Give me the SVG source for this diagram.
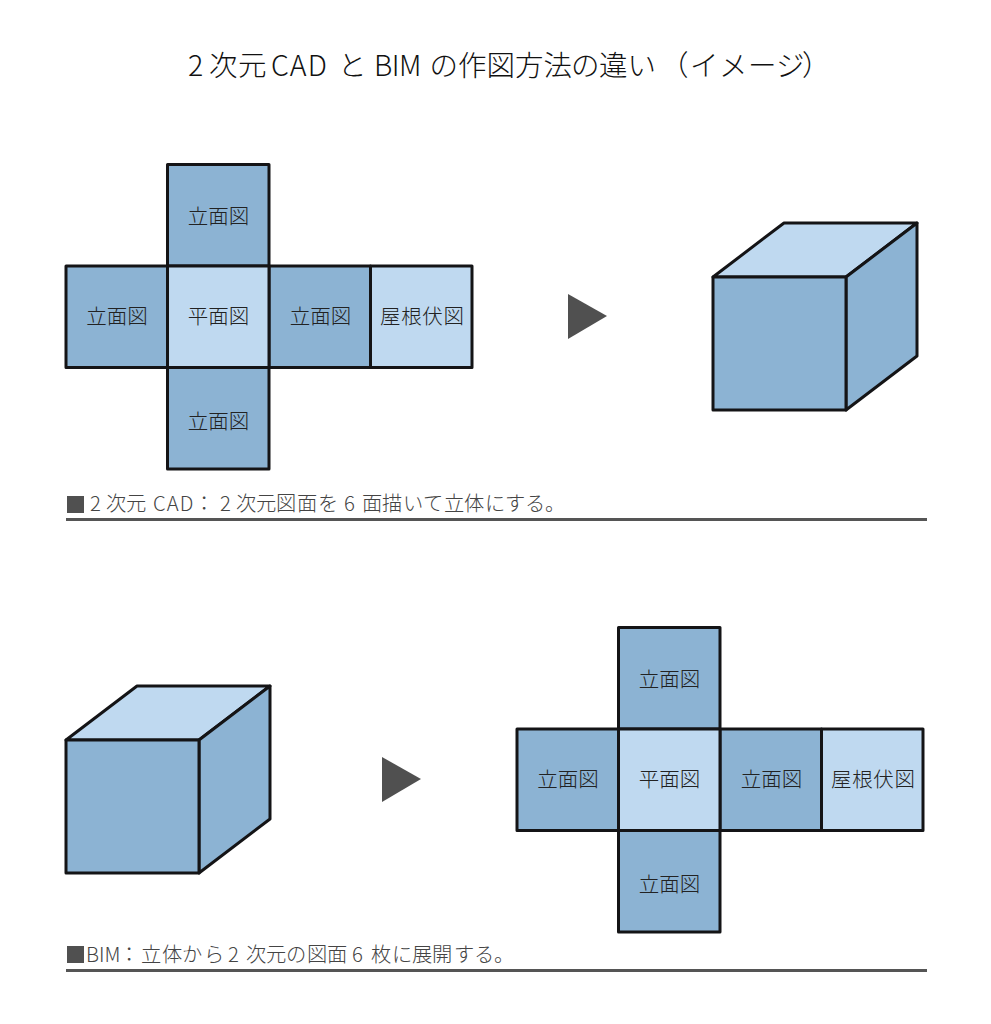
<svg xmlns="http://www.w3.org/2000/svg" width="991" height="1024" viewBox="0 0 991 1024">
<style>
text{font-family:"Noto Sans CJK JP","Noto Sans",sans-serif;font-weight:200;fill:#222}
.l{font-size:20.5px;text-anchor:middle}
.c{font-size:20.3px;fill:#444}
.t{font-size:28.5px;fill:#111}
.d{fill:#8cb3d3;stroke:#141416;stroke-width:3;stroke-linejoin:round}
.p{fill:#bfd9f0;stroke:#141416;stroke-width:3;stroke-linejoin:round}
.a{fill:#505050}
.r{stroke:#555;stroke-width:3;fill:none}
</style>
<defs>
<g id="net">
<rect class="d" x="101.500" y="-101.500" width="101.500" height="101.500"/>
<rect class="d" x="0" y="0" width="101.500" height="101.500"/>
<rect class="d" x="203" y="0" width="101.500" height="101.500"/>
<rect class="p" x="304.500" y="0" width="101.500" height="101.500"/>
<rect class="d" x="101.500" y="101.500" width="101.500" height="101.500"/>
<rect class="p" x="101.500" y="0" width="101.500" height="101.500"/>
<text class="l" x="152.500" y="-42">立面図</text>
<text class="l" x="51" y="58">立面図</text>
<text class="l" x="152.500" y="58">平面図</text>
<text class="l" x="254.500" y="58">立面図</text>
<text class="l" x="356" y="58" textLength="84" lengthAdjust="spacing">屋根伏図</text>
<text class="l" x="152.500" y="162.500">立面図</text>
</g>
<g id="cube">
<path class="p" d="M0 54L71 0H204L133 54Z"/>
<path class="d" d="M133 54L204 0V133L133 187Z"/>
<rect class="d" x="0" y="54" width="133" height="133"/>
</g>
</defs>
<text id="title" class="t" y="76"><tspan x="188">2</tspan><tspan x="209 238">次元</tspan><tspan x="271" letter-spacing="1">CAD</tspan><tspan x="338">と</tspan><tspan x="374" letter-spacing="-0.500">BIM</tspan><tspan x="429.500 458 486.500 515 543.500 571 599 627.500">の作図方法の違い</tspan><tspan x="660 690 719 748 776 802">（イメージ）</tspan></text>
<g id="net-top"><use href="#net" x="66" y="266"/></g>
<g id="arrow-top"><path class="a" d="M568 294L607 316L568 339Z"/></g>
<g id="cube-top"><use href="#cube" x="713" y="223"/></g>
<g id="caption-top">
<rect class="a" x="67" y="496" width="17" height="17"/>
<text class="c" y="511"><tspan x="90">2</tspan><tspan x="106 126">次元</tspan><tspan x="153" letter-spacing="1">CAD</tspan><tspan x="194">：</tspan><tspan x="220">2</tspan><tspan x="236 256 276 297 318">次元図面を</tspan><tspan x="344">6</tspan><tspan x="362 382 403 423 444 464 485 505 525 545">面描いて立体にする。</tspan></text>
<path class="r" d="M66 519.500H927"/>
</g>
<g id="cube-bottom"><use href="#cube" x="66" y="686"/></g>
<g id="arrow-bottom"><path class="a" d="M382 757L421 779L382 802Z"/></g>
<g id="net-bottom"><use href="#net" x="517" y="729"/></g>
<g id="caption-bottom">
<rect class="a" x="67" y="946" width="17" height="17"/>
<text class="c" y="962"><tspan x="86">BIM</tspan><tspan x="119">：</tspan><tspan x="141 162 182 204">立体から</tspan><tspan x="228">2</tspan><tspan x="246 266 286 307 327">次元の図面</tspan><tspan x="352">6</tspan><tspan x="371 392 412 432 454 474 494">枚に展開する。</tspan></text>
<path class="r" d="M66 970.500H927"/>
</g>
</svg>
